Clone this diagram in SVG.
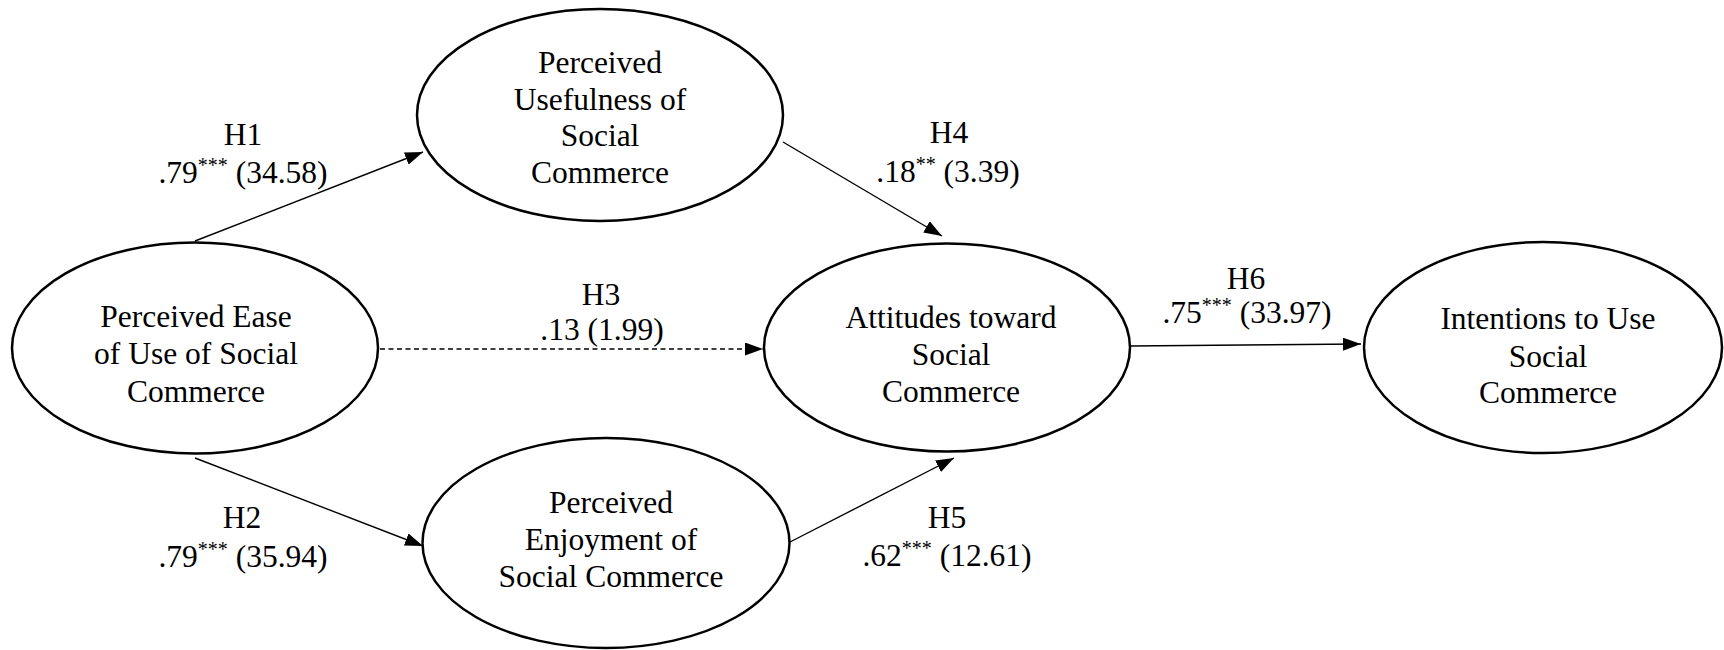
<svg xmlns="http://www.w3.org/2000/svg" width="1724" height="650" viewBox="0 0 1724 650">
<style>
text{font-family:"Liberation Serif","Times New Roman",serif;font-size:31.5px;fill:#000;text-anchor:middle}
.node ellipse{fill:#fff;stroke:#000;stroke-width:2.5}
.edge{stroke:#000;stroke-width:1.4;fill:none;marker-end:url(#ah)}
.dash{stroke-dasharray:5 3.5}
.sup{font-size:20px}
</style>
<defs>
<marker id="ah" markerUnits="userSpaceOnUse" markerWidth="18" markerHeight="13" refX="18" refY="6.5" orient="auto">
<path d="M0,0 L18,6.5 L0,13 z" fill="#000"/>
</marker>
</defs>
<rect width="1724" height="650" fill="#fff"/>
<g id="connectors">
<line class="edge" x1="195" y1="241" x2="423" y2="152"/>
<line class="edge" x1="195" y1="458" x2="423" y2="546"/>
<line class="edge dash" x1="380" y1="349" x2="763" y2="349"/>
<line class="edge" x1="783" y1="142" x2="942" y2="236"/>
<line class="edge" x1="790" y1="542" x2="954" y2="458"/>
<line class="edge" x1="1130" y1="346" x2="1361" y2="344"/>
</g>
<g id="labels">
<text x="243" y="145">H1</text>
<text x="243" y="183">.79<tspan class="sup" dy="-11">***</tspan><tspan dy="11"> (34.58)</tspan></text>
<text x="242" y="528">H2</text>
<text x="243" y="567">.79<tspan class="sup" dy="-11">***</tspan><tspan dy="11"> (35.94)</tspan></text>
<text x="601" y="305">H3</text>
<text x="602" y="340">.13 (1.99)</text>
<text x="949" y="143">H4</text>
<text x="948" y="182">.18<tspan class="sup" dy="-11">**</tspan><tspan dy="11"> (3.39)</tspan></text>
<text x="947" y="528">H5</text>
<text x="947" y="566">.62<tspan class="sup" dy="-11">***</tspan><tspan dy="11"> (12.61)</tspan></text>
<text x="1246" y="289">H6</text>
<text x="1247" y="323">.75<tspan class="sup" dy="-11">***</tspan><tspan dy="11"> (33.97)</tspan></text>
</g>
<g id="node-pu" class="node">
<ellipse cx="600" cy="115" rx="183" ry="106"/>
<text x="600" y="73">Perceived</text>
<text x="600" y="110">Usefulness of</text>
<text x="600" y="146">Social</text>
<text x="600" y="183">Commerce</text>
</g>
<g id="node-peou" class="node">
<ellipse cx="195" cy="348" rx="183" ry="105.5"/>
<text x="196" y="327">Perceived Ease</text>
<text x="196" y="364">of Use of Social</text>
<text x="196" y="402">Commerce</text>
</g>
<g id="node-pe" class="node">
<ellipse cx="606" cy="543" rx="183.5" ry="105"/>
<text x="611" y="513">Perceived</text>
<text x="611" y="550">Enjoyment of</text>
<text x="611" y="587">Social Commerce</text>
</g>
<g id="node-att" class="node">
<ellipse cx="947" cy="347.5" rx="183" ry="104"/>
<text x="951" y="328">Attitudes toward</text>
<text x="951" y="365">Social</text>
<text x="951" y="402">Commerce</text>
</g>
<g id="node-int" class="node">
<ellipse cx="1543" cy="347.5" rx="179" ry="105.5"/>
<text x="1548" y="329">Intentions to Use</text>
<text x="1548" y="367">Social</text>
<text x="1548" y="403">Commerce</text>
</g>
</svg>
